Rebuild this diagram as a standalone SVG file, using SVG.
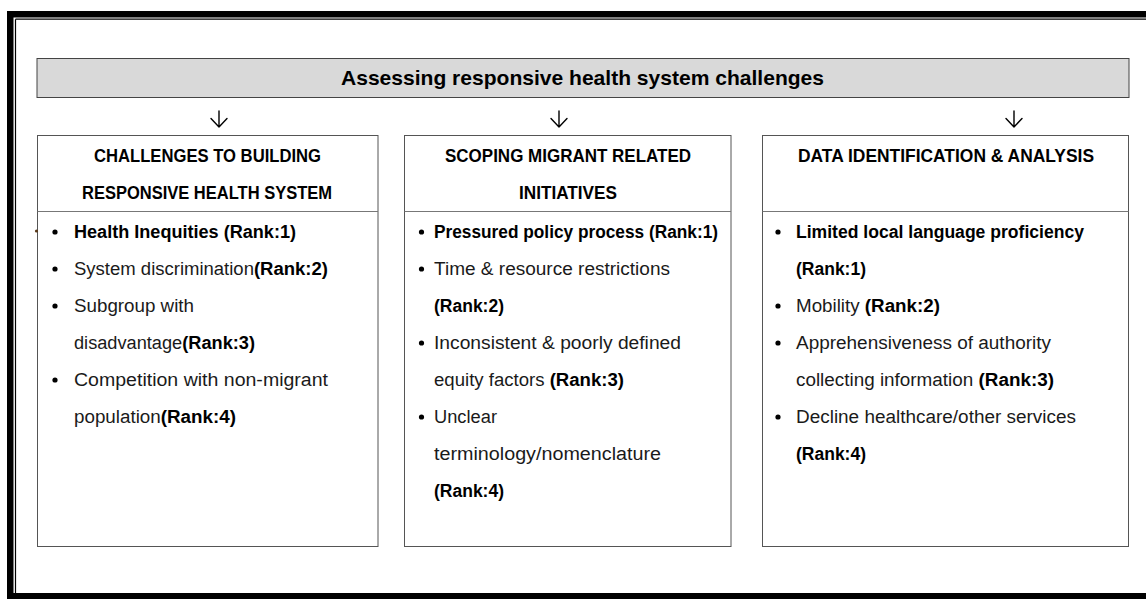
<svg xmlns="http://www.w3.org/2000/svg" width="1146" height="599" viewBox="0 0 1146 599">
<style>
  .frame{fill:#000}
  .thin{stroke:#000;stroke-width:1.2;fill:none}
  .box{fill:#fff;stroke:#555;stroke-width:1}
  .div{stroke:#777;stroke-width:1}
  .title{font-family:"Liberation Sans",Arial,sans-serif;font-weight:bold;font-size:21px;fill:#000}
  .hd{font-family:"Liberation Sans",Arial,sans-serif;font-weight:bold;font-size:18px;fill:#000;text-anchor:middle}
  .tx{font-family:"Liberation Sans",Arial,sans-serif;font-size:18px;fill:#1a1a1a}
  .b{font-weight:bold;fill:#000}
  .bul{fill:#000}
  .arr{stroke:#000;stroke-width:1.4;fill:none;stroke-linecap:round;stroke-linejoin:round}
</style>
<rect width="1146" height="599" fill="#fff"/>
<!-- outer frame -->
<g id="frame">
  <rect class="frame" x="7" y="11" width="1139" height="6.5"/>
  <rect class="frame" x="7" y="11" width="6.5" height="588"/>
  <rect class="frame" x="7" y="593" width="1139" height="6"/>
  <line class="thin" x1="15.5" y1="19.2" x2="1146" y2="19.2"/>
  <line class="thin" x1="15.5" y1="19.2" x2="15.5" y2="593"/>
</g>
<!-- title -->
<g id="title">
  <rect x="37" y="58.5" width="1092" height="39" fill="#d9d9d9" stroke="#444" stroke-width="1"/>
  <text class="title" x="341" y="85" textLength="483" lengthAdjust="spacingAndGlyphs">Assessing responsive health system challenges</text>
</g>
<!-- connectors -->
<g id="connectors">
  <path class="arr" d="M219 111 V127 M211 118.5 L219 127 L227 118.5"/>
  <path class="arr" d="M559 111 V127 M551 118.5 L559 127 L567 118.5"/>
  <path class="arr" d="M1014 111 V127 M1006 118.5 L1014 127 L1022 118.5"/>
</g>
<!-- box 1 -->
<g id="box1">
  <rect class="box" x="37.5" y="135.5" width="340.5" height="411"/>
  <line class="div" x1="37.5" y1="211.5" x2="378" y2="211.5"/>
  <text class="hd" x="207.5" y="162" textLength="227" lengthAdjust="spacingAndGlyphs">CHALLENGES TO BUILDING</text>
  <text class="hd" x="207" y="199" textLength="250" lengthAdjust="spacingAndGlyphs">RESPONSIVE HEALTH SYSTEM</text>
  <circle cx="36.5" cy="231" r="1.6" fill="#5a3a1a"/>
  <circle class="bul" cx="55" cy="232" r="2.6"/>
  <circle class="bul" cx="55" cy="269" r="2.6"/>
  <circle class="bul" cx="55" cy="306" r="2.6"/>
  <circle class="bul" cx="55" cy="380" r="2.6"/>
  <text class="tx b" x="74" y="238" textLength="222" lengthAdjust="spacingAndGlyphs">Health Inequities (Rank:1)</text>
  <text class="tx" x="74" y="275" textLength="254" lengthAdjust="spacingAndGlyphs">System discrimination<tspan class="b">(Rank:2)</tspan></text>
  <text class="tx" x="74" y="312" textLength="120" lengthAdjust="spacingAndGlyphs">Subgroup with</text>
  <text class="tx" x="74" y="349" textLength="181" lengthAdjust="spacingAndGlyphs">disadvantage<tspan class="b">(Rank:3)</tspan></text>
  <text class="tx" x="74" y="386" textLength="254" lengthAdjust="spacingAndGlyphs">Competition with non-migrant</text>
  <text class="tx" x="74" y="423" textLength="162" lengthAdjust="spacingAndGlyphs">population<tspan class="b">(Rank:4)</tspan></text>
</g>
<!-- box 2 -->
<g id="box2">
  <rect class="box" x="404.5" y="135.5" width="326.5" height="411"/>
  <line class="div" x1="404.5" y1="211.5" x2="731" y2="211.5"/>
  <text class="hd" x="568" y="162" textLength="246" lengthAdjust="spacingAndGlyphs">SCOPING MIGRANT RELATED</text>
  <text class="hd" x="568" y="199" textLength="98" lengthAdjust="spacingAndGlyphs">INITIATIVES</text>
  <circle class="bul" cx="421.5" cy="232" r="2.6"/>
  <circle class="bul" cx="421.5" cy="269" r="2.6"/>
  <circle class="bul" cx="421.5" cy="343" r="2.6"/>
  <circle class="bul" cx="421.5" cy="417" r="2.6"/>
  <text class="tx b" x="434" y="238" textLength="284" lengthAdjust="spacingAndGlyphs">Pressured policy process (Rank:1)</text>
  <text class="tx" x="434" y="275" textLength="236" lengthAdjust="spacingAndGlyphs">Time &amp; resource restrictions</text>
  <text class="tx b" x="434" y="312" textLength="70" lengthAdjust="spacingAndGlyphs">(Rank:2)</text>
  <text class="tx" x="434" y="349" textLength="247" lengthAdjust="spacingAndGlyphs">Inconsistent &amp; poorly defined</text>
  <text class="tx" x="434" y="386" textLength="190" lengthAdjust="spacingAndGlyphs">equity factors <tspan class="b">(Rank:3)</tspan></text>
  <text class="tx" x="434" y="423" textLength="63" lengthAdjust="spacingAndGlyphs">Unclear</text>
  <text class="tx" x="434" y="460" textLength="227" lengthAdjust="spacingAndGlyphs">terminology/nomenclature</text>
  <text class="tx b" x="434" y="497" textLength="70" lengthAdjust="spacingAndGlyphs">(Rank:4)</text>
</g>
<!-- box 3 -->
<g id="box3">
  <rect class="box" x="762.5" y="135.5" width="366" height="411"/>
  <line class="div" x1="762.5" y1="211.5" x2="1128.5" y2="211.5"/>
  <text class="hd" x="946" y="162" textLength="296" lengthAdjust="spacingAndGlyphs">DATA IDENTIFICATION &amp; ANALYSIS</text>
  <circle class="bul" cx="778" cy="232" r="2.6"/>
  <circle class="bul" cx="778" cy="306" r="2.6"/>
  <circle class="bul" cx="778" cy="343" r="2.6"/>
  <circle class="bul" cx="778" cy="417" r="2.6"/>
  <text class="tx b" x="796" y="238" textLength="288" lengthAdjust="spacingAndGlyphs">Limited local language proficiency</text>
  <text class="tx b" x="796" y="275" textLength="70" lengthAdjust="spacingAndGlyphs">(Rank:1)</text>
  <text class="tx" x="796" y="312" textLength="144" lengthAdjust="spacingAndGlyphs">Mobility <tspan class="b">(Rank:2)</tspan></text>
  <text class="tx" x="796" y="349" textLength="255" lengthAdjust="spacingAndGlyphs">Apprehensiveness of authority</text>
  <text class="tx" x="796" y="386" textLength="258" lengthAdjust="spacingAndGlyphs">collecting information <tspan class="b">(Rank:3)</tspan></text>
  <text class="tx" x="796" y="423" textLength="280" lengthAdjust="spacingAndGlyphs">Decline healthcare/other services</text>
  <text class="tx b" x="796" y="460" textLength="70" lengthAdjust="spacingAndGlyphs">(Rank:4)</text>
</g>
</svg>
